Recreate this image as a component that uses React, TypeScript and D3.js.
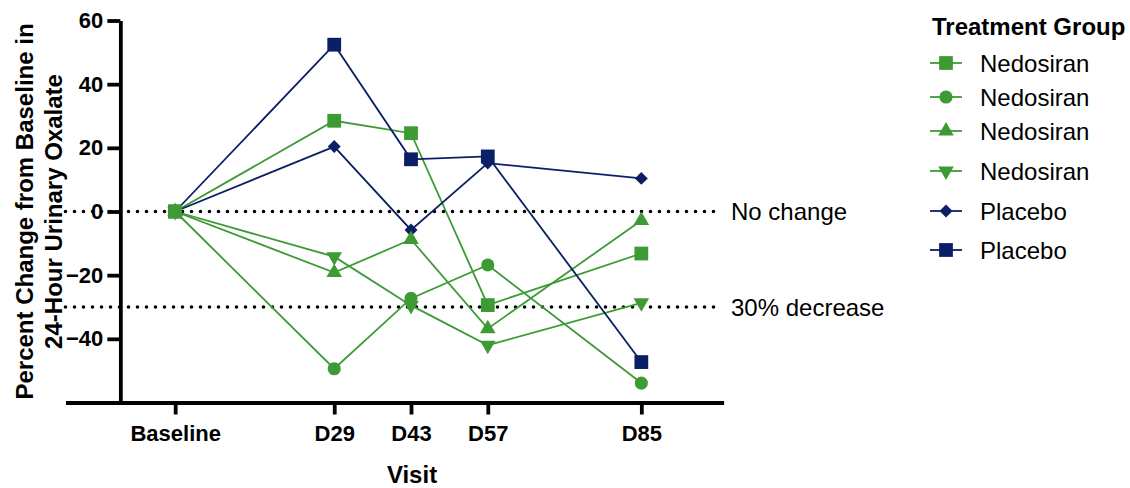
import React, { useEffect, useRef } from 'react';
import * as d3 from 'd3';

// visit days and tick labels
const visitDays = [0, 29, 43, 57, 85];
const visitLabels = ['Baseline', 'D29', 'D43', 'D57', 'D85'];
const yTicks = [-40, -20, 0, 20, 40, 60];

// percent change from baseline per participant
const nedosiranSquare = [0, 28.5, 24.6, -29.4, -13.2];
const nedosiranCircle = [0, -49.4, -27.3, -16.8, -53.9];
const nedosiranUp = [0, -19.2, -8.8, -36.8, -2.8];
const nedosiranDown = [0, -14.2, -29.5, -42.0, -28.7];
const placeboDiamond = [0, 20.4, -5.8, 15.2, 10.4];
const placeboSquare = [0, 52.4, 16.4, 17.3, -47.3];

const seriesNames = ['Nedosiran', 'Nedosiran', 'Nedosiran', 'Nedosiran', 'Placebo', 'Placebo'];
const refLines = [{ value: 0, label: 'No change' }, { value: -30, label: '30% decrease' }];

const GREEN = '#3d9a35';
const NAVY = '#0b1f66';
const FONT = '"Liberation Sans", Arial, Helvetica, sans-serif';

const App = () => {
  const svgRef = useRef<SVGSVGElement>(null);

  useEffect(() => {
    const svg = d3.select(svgRef.current);
    svg.selectAll('*').remove();

    const x = d3.scaleLinear().domain([-20, 100]).range([65.5, 723.6]);
    const y = d3.scaleLinear().domain([-60, 60]).range([402.5, 20.5]);

    const series = [
      { values: nedosiranSquare, color: GREEN, shape: 'square' },
      { values: nedosiranCircle, color: GREEN, shape: 'circle' },
      { values: nedosiranUp, color: GREEN, shape: 'up' },
      { values: nedosiranDown, color: GREEN, shape: 'down' },
      { values: placeboDiamond, color: NAVY, shape: 'diamond' },
      { values: placeboSquare, color: NAVY, shape: 'square' },
    ];

    const markerPath = (shape: string) => {
      if (shape === 'square') return d3.symbol(d3.symbolSquare, 190)();
      if (shape === 'circle') return d3.symbol(d3.symbolCircle, 135)();
      if (shape === 'diamond') return d3.symbol(d3.symbolSquare, 84)();
      return d3.symbol(d3.symbolTriangle, 105)();
    };
    const markerRotate = (shape: string) => (shape === 'diamond' ? 45 : shape === 'down' ? 180 : 0);

    // dotted reference lines
    refLines.forEach(r => {
      svg.append('line')
        .attr('x1', x(-20)).attr('x2', 720)
        .attr('y1', y(r.value)).attr('y2', y(r.value))
        .attr('stroke', '#000').attr('stroke-width', 3.6)
        .attr('stroke-linecap', 'round').attr('stroke-dasharray', '0 9');
      svg.append('text')
        .attr('x', 731).attr('y', y(r.value)).attr('dy', '0.36em')
        .attr('font-family', FONT).attr('font-size', 24).attr('fill', '#000')
        .text(r.label);
    });

    // y axis, sits at day -10
    const yAxis = svg.append('g')
      .attr('transform', `translate(${x(-10)},0)`)
      .call(d3.axisLeft(y).tickValues(yTicks).tickSize(13).tickSizeOuter(0).tickPadding(4));
    yAxis.select('.domain').attr('stroke-width', 3.8);
    yAxis.selectAll('.tick line').attr('stroke-width', 3.8);
    yAxis.selectAll('.tick text')
      .attr('font-family', FONT).attr('font-size', 22).attr('font-weight', 'bold').attr('fill', '#000');

    // x axis
    const xAxis = svg.append('g')
      .attr('transform', `translate(0,${y(-60)})`)
      .call(d3.axisBottom(x).tickValues(visitDays).tickSize(12).tickSizeOuter(0).tickPadding(11)
        .tickFormat((d, i) => visitLabels[i]));
    xAxis.select('.domain').attr('stroke-width', 3.8);
    xAxis.selectAll('.tick line').attr('stroke-width', 3.8);
    xAxis.selectAll('.tick text')
      .attr('font-family', FONT).attr('font-size', 22).attr('font-weight', 'bold').attr('fill', '#000');

    // axis titles
    svg.append('text')
      .attr('x', 412).attr('y', 483).attr('text-anchor', 'middle')
      .attr('font-family', FONT).attr('font-size', 24).attr('font-weight', 'bold')
      .text('Visit');
    const yTitle = svg.append('text')
      .attr('transform', `translate(33,${(y(60) + y(-60)) / 2}) rotate(-90)`)
      .attr('text-anchor', 'middle')
      .attr('font-family', FONT).attr('font-size', 24).attr('font-weight', 'bold');
    yTitle.append('tspan').attr('x', 0).attr('y', 0).text('Percent Change from Baseline in');
    yTitle.append('tspan').attr('x', 0).attr('y', 29).text('24-Hour Urinary Oxalate');

    // lines
    const line = d3.line<number>().x((d, i) => x(visitDays[i])).y(d => y(d));
    series.forEach(s => {
      svg.append('path')
        .attr('d', line(s.values))
        .attr('fill', 'none').attr('stroke', s.color).attr('stroke-width', 1.8);
    });

    // markers, first series on top
    series.slice().reverse().forEach(s => {
      svg.append('g').selectAll('path')
        .data(s.values)
        .enter()
        .append('path')
        .attr('d', markerPath(s.shape))
        .attr('transform', (d, i) => `translate(${x(visitDays[i])},${y(d)}) rotate(${markerRotate(s.shape)})`)
        .attr('fill', s.color);
    });

    // legend
    svg.append('text')
      .attr('x', 932).attr('y', 35)
      .attr('font-family', FONT).attr('font-size', 24).attr('font-weight', 'bold')
      .text('Treatment Group');
    const legendY = [63, 97, 131, 171, 211, 250];
    series.forEach((s, i) => {
      const g = svg.append('g').attr('transform', `translate(0,${legendY[i]})`);
      g.append('line').attr('x1', 930).attr('x2', 962).attr('stroke', s.color).attr('stroke-width', 1.8);
      g.append('path')
        .attr('d', markerPath(s.shape))
        .attr('transform', `translate(946,0) rotate(${markerRotate(s.shape)})`)
        .attr('fill', s.color);
      g.append('text')
        .attr('x', 980).attr('dy', '0.36em')
        .attr('font-family', FONT).attr('font-size', 24).attr('fill', '#000')
        .text(seriesNames[i]);
    });
  }, []);

  return (
    <svg ref={svgRef} width={1130} height={488}
      style={{ position: 'absolute', left: 0, top: 0, background: '#fff' }} />
  );
};

export default App;
